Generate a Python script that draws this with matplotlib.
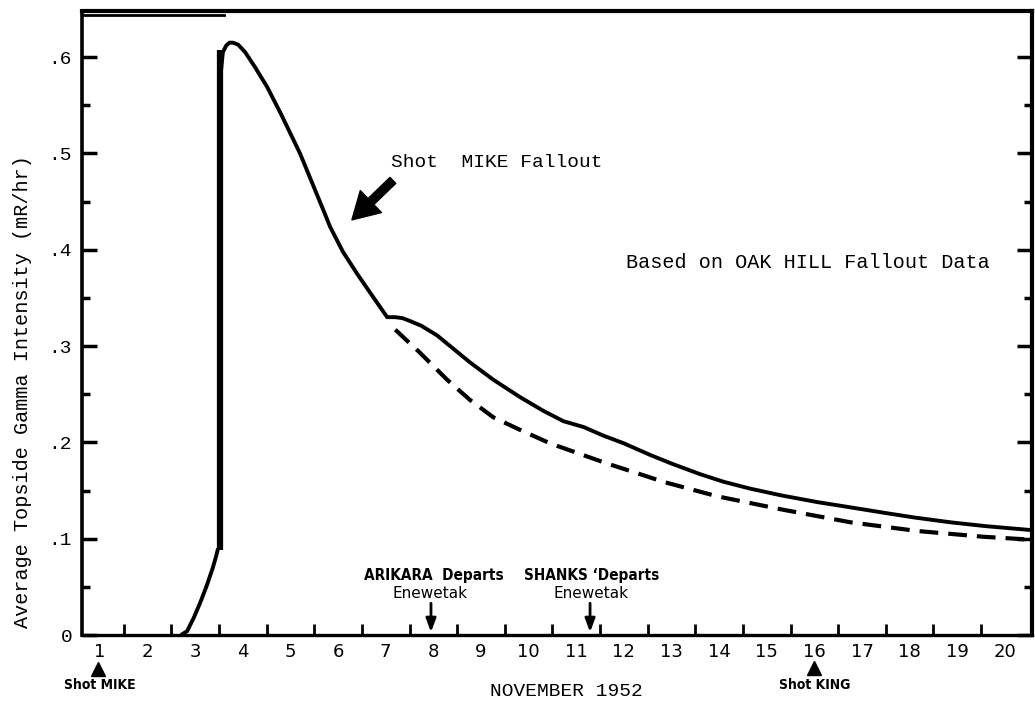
import matplotlib
matplotlib.use("Agg")
import matplotlib.pyplot as plt
import numpy as np

# --- data (day of November 1952, mR/hr) ---
rise_day = [2.70, 2.83, 2.97, 3.10, 3.24, 3.37, 3.44, 3.48]
rise_val = [0.000, 0.004, 0.018, 0.033, 0.051, 0.070, 0.082, 0.090]

jump_day = [3.52, 3.52]
jump_val = [0.088, 0.607]

main_day = [3.54, 3.58, 3.65, 3.72, 3.79, 3.90, 4.05, 4.25, 4.51, 4.80, 5.20, 5.50,
            5.70, 5.83, 6.10, 6.40, 6.72, 7.03, 7.20, 7.35, 7.51, 7.75, 8.08, 8.40,
            8.77, 9.26, 9.82, 10.30, 10.73, 11.15, 11.57, 12.00, 12.55, 13.00,
            13.60, 14.10, 14.65, 15.30, 16.06, 16.70, 17.45, 18.10, 18.86, 19.60, 20.54]
main_val = [0.585, 0.605, 0.612, 0.615, 0.615, 0.613, 0.605, 0.590, 0.569, 0.541, 0.500, 0.464,
            0.440, 0.424, 0.398, 0.375, 0.352, 0.330, 0.330, 0.329, 0.326, 0.321, 0.311, 0.298,
            0.283, 0.265, 0.247, 0.233, 0.222, 0.216, 0.207, 0.199, 0.187, 0.178,
            0.167, 0.159, 0.152, 0.145, 0.138, 0.133, 0.127, 0.122, 0.117, 0.113, 0.109]

dash_day = [7.20, 7.72, 8.29, 8.77, 9.26, 9.82, 10.45, 11.02, 11.65, 12.28, 12.83,
            13.96, 15.35, 16.76, 18.16, 19.55, 20.54]
dash_val = [0.317, 0.293, 0.265, 0.244, 0.226, 0.213, 0.199, 0.189, 0.178, 0.168, 0.159,
            0.144, 0.130, 0.117, 0.108, 0.102, 0.099]

day_labels = list(range(1, 21))
y_ticks = [0, 0.1, 0.2, 0.3, 0.4, 0.5, 0.6]
y_tick_labels = ["0", ".1", ".2", ".3", ".4", ".5", ".6"]

mono = "Liberation Mono"
cond = dict(family="DejaVu Sans", stretch="condensed", fontweight="bold")

fig = plt.figure(figsize=(10.35, 7.04), dpi=100)
ax = fig.add_axes([0.0792, 0.098, 0.9178, 0.886])

ax.plot(rise_day, rise_val, color="black", lw=2.8, solid_capstyle="butt")
ax.plot(jump_day, jump_val, color="black", lw=4.5, solid_capstyle="butt")
ax.plot(main_day, main_val, color="black", lw=2.8, solid_joinstyle="round")
ax.plot(dash_day, dash_val, color="black", lw=3, dashes=(4.5, 2.4))

ax.set_xlim(0.622, 20.567)
ax.set_ylim(0, 0.6476)

# spines
for side, w in [("top", 3.0), ("left", 2.6), ("bottom", 2.4), ("right", 3.0)]:
    ax.spines[side].set_linewidth(w)
ax.axhline(0.6434, 0, 0.15, color="black", lw=2)

# x: tick marks at day boundaries, labels at day centres
ax.set_xticks(np.arange(1.5, 20, 1.0))
ax.set_xticklabels([])
ax.set_xticks(day_labels, minor=True)
ax.set_xticklabels([str(d) for d in day_labels], minor=True, fontsize=13, family="DejaVu Sans")
ax.tick_params(axis="x", which="major", direction="in", length=8, width=2)
ax.tick_params(axis="x", which="minor", length=0, pad=6)

ax.set_yticks(y_ticks)
ax.set_yticklabels(y_tick_labels, fontsize=14, family=mono)
ax.set_yticks(np.arange(0.05, 0.65, 0.1), minor=True)
ax.tick_params(axis="y", which="major", direction="in", length=11, width=2.5,
               right=True, pad=7)
ax.tick_params(axis="y", which="minor", direction="in", length=6, width=2.5, right=True)

ax.set_ylabel("Average Topside Gamma Intensity (mR/hr)", fontsize=14.5, family=mono,
              va="center")
ax.yaxis.set_label_coords(-0.063, 0.391)

# annotations
ax.text(7.12, 0.491, "Shot  MIKE Fallout", fontsize=14, family=mono, va="center")
ax.annotate("", xy=(6.29, 0.431), xytext=(7.15, 0.472),
            arrowprops=dict(arrowstyle="simple,head_length=1.9,head_width=2.2,tail_width=0.6",
                            mutation_scale=10, color="black", shrinkA=0, shrinkB=0))
ax.text(12.04, 0.387, "Based on OAK HILL Fallout Data", fontsize=14.5, family=mono,
        va="center")

ax.text(8.01, 0.062, "ARIKARA  Departs", fontsize=11, ha="center", va="center", **cond)
ax.text(7.93, 0.043, "Enewetak", fontsize=11, family="DejaVu Sans", ha="center", va="center")
ax.annotate("", xy=(7.95, 0.003), xytext=(7.95, 0.033),
            arrowprops=dict(arrowstyle="-|>,head_length=0.8,head_width=0.3", color="black",
                            lw=2, shrinkA=0, shrinkB=0))

ax.text(11.33, 0.062, "SHANKS \u2018Departs", fontsize=11, ha="center", va="center", **cond)
ax.text(11.31, 0.043, "Enewetak", fontsize=11, family="DejaVu Sans", ha="center", va="center")
ax.annotate("", xy=(11.29, 0.003), xytext=(11.29, 0.033),
            arrowprops=dict(arrowstyle="-|>,head_length=0.8,head_width=0.3", color="black",
                            lw=2, shrinkA=0, shrinkB=0))

# shot markers below the axis
ax.plot([0.95, 16.0], [-0.035, -0.034], marker="^", ms=10, color="black", ls="none",
        clip_on=False)
ax.text(0.99, -0.052, "Shot MIKE", fontsize=10, ha="center", va="center", clip_on=False,
        **cond)
ax.text(16.01, -0.052, "Shot KING", fontsize=10, ha="center", va="center", clip_on=False,
        **cond)

ax.text(10.79, -0.059, "NOVEMBER 1952", fontsize=14, family=mono, ha="center",
        va="center", clip_on=False)

fig.savefig("out.png", dpi=100)
